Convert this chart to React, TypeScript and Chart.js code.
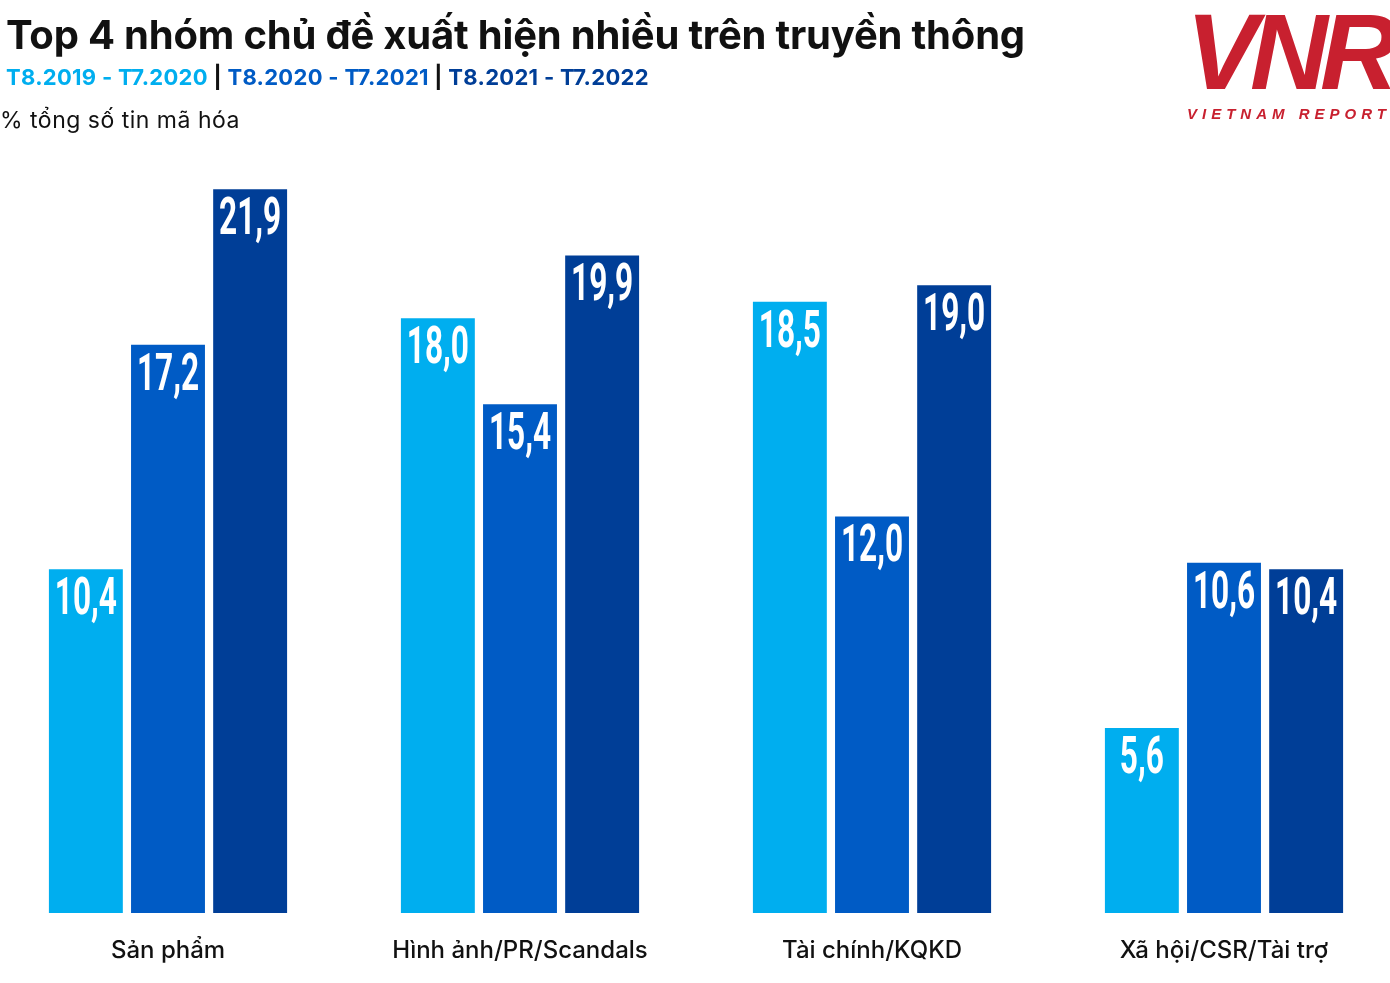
import React, { useEffect, useRef } from "react";
import { Chart, registerables } from "chart.js";

Chart.register(...registerables);

const categories = ["Sản phẩm", "Hình ảnh/PR/Scandals", "Tài chính/KQKD", "Xã hội/CSR/Tài trợ"];
const periodLabels = ["T8.2019 - T7.2020", "T8.2020 - T7.2021", "T8.2021 - T7.2022"];
const series2020 = [10.4, 18.0, 18.5, 5.6];
const series2021 = [17.2, 15.4, 12.0, 10.6];
const series2022 = [21.9, 19.9, 19.0, 10.4];
const colors = ["#00AEEF", "#005BC5", "#003E97"];

const valueLabels = {
  id: "valueLabels",
  afterDatasetsDraw(chart: any) {
    const ctx = chart.ctx;
    chart.data.datasets.forEach((ds: any, di: number) => {
      const meta = chart.getDatasetMeta(di);
      meta.data.forEach((bar: any, i: number) => {
        const v = ds.data[i] as number;
        const text = v.toFixed(1).replace(".", ",");
        ctx.save();
        ctx.translate(bar.x, bar.y + 45);
        ctx.scale(0.62, 1);
        ctx.font = "bold 51px Roboto";
        ctx.fillStyle = "#ffffff";
        ctx.textAlign = "center";
        ctx.textBaseline = "alphabetic";
        ctx.fillText(text, 0, 0);
        ctx.restore();
      });
    });
  },
};

export default function App() {
  const ref = useRef<HTMLCanvasElement | null>(null);
  useEffect(() => {
    if (!ref.current) return;
    const chart = new Chart(ref.current, {
      type: "bar",
      data: {
        labels: categories,
        datasets: [series2020, series2021, series2022].map((d, i) => ({
          label: periodLabels[i],
          data: d,
          backgroundColor: colors[i],
          borderWidth: 0,
          categoryPercentage: 0.7,
          barPercentage: 0.9,
        })),
      },
      options: {
        animation: false,
        responsive: false,
        maintainAspectRatio: false,
        layout: { padding: { top: 153, bottom: 0, left: 0, right: 0 } },
        plugins: { legend: { display: false }, title: { display: false }, tooltip: { enabled: false } },
        scales: {
          y: { display: false, min: 0, max: 23 },
          x: {
            grid: { display: false, drawTicks: false },
            border: { display: false },
            ticks: {
              color: "#111111",
              padding: 23,
              font: { family: "Inter", size: 24, weight: 500 },
            },
            afterFit: (scale: any) => {
              scale.height = 70;
            },
          },
        },
      },
      plugins: [valueLabels],
    });
    return () => chart.destroy();
  }, []);

  return (
    <div style={{ position: "absolute", left: 0, top: 0, width: 1390, height: 983, overflow: "hidden", background: "#fff" }}>
      <div style={{ position: "absolute", left: -8, top: 0, width: 1408, height: 983 }}>
        <canvas ref={ref} width={1408} height={983} style={{ width: 1408, height: 983 }} />
      </div>
      <div
        style={{
          position: "absolute",
          left: 6,
          top: 10,
          fontFamily: "Inter",
          fontWeight: 700,
          fontSize: 40,
          color: "#111",
          whiteSpace: "nowrap",
          letterSpacing: -0.2,
        }}
      >
        Top 4 nhóm chủ đề xuất hiện nhiều trên truyền thông
      </div>
      <div
        style={{
          position: "absolute",
          left: 6,
          top: 64,
          fontFamily: "Inter",
          fontWeight: 700,
          fontSize: 22,
          letterSpacing: 0.3,
          whiteSpace: "nowrap",
        }}
      >
        <span style={{ color: colors[0] }}>{periodLabels[0]}</span>
        <span style={{ color: "#111" }}> | </span>
        <span style={{ color: colors[1] }}>{periodLabels[1]}</span>
        <span style={{ color: "#111" }}> | </span>
        <span style={{ color: colors[2] }}>{periodLabels[2]}</span>
      </div>
      <div
        style={{
          position: "absolute",
          left: 0,
          top: 106,
          fontFamily: "Inter",
          fontWeight: 400,
          fontSize: 23,
          letterSpacing: 0.5,
          color: "#111",
          whiteSpace: "nowrap",
        }}
      >
        % tổng số tin mã hóa
      </div>
      <div
        style={{
          position: "absolute",
          left: 1186,
          top: -8,
          fontFamily: "Liberation Sans",
          fontWeight: 700,
          fontStyle: "italic",
          fontSize: 108,
          color: "#C8202F",
          letterSpacing: -8,
          whiteSpace: "nowrap",
          lineHeight: "120px",
        }}
      >
        VNR
      </div>
      <div
        style={{
          position: "absolute",
          left: 1187,
          top: 105,
          fontFamily: "Liberation Sans",
          fontWeight: 700,
          fontStyle: "italic",
          fontSize: 15,
          color: "#C8202F",
          letterSpacing: 5,
          whiteSpace: "nowrap",
        }}
      >
        VIETNAM REPORT
      </div>
    </div>
  );
}
